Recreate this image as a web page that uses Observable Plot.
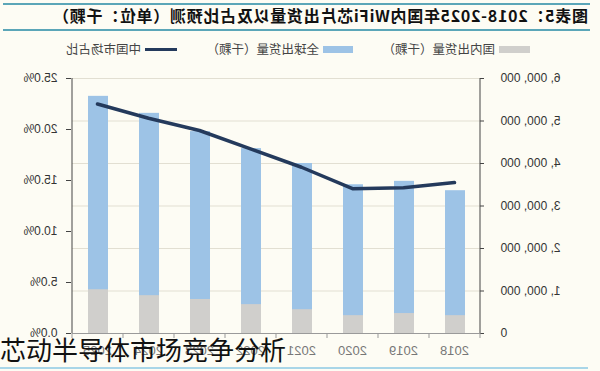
<!DOCTYPE html>
<html>
<head>
<meta charset="utf-8">
<script src="https://cdn.jsdelivr.net/npm/d3@7"></script>
<script src="https://cdn.jsdelivr.net/npm/@observablehq/plot@0.6"></script>
<style>
  html, body { margin: 0; padding: 0; background: #fdfcf4; }
  #root { position: relative; width: 600px; height: 371px; overflow: hidden; background: #fdfcf4; font-family: "Noto Sans CJK SC", sans-serif; }
  #mirror { position: absolute; left: 0; top: 0; width: 600px; height: 371px; transform: scaleX(-1); }
  .hline { position: absolute; height: 2px; }
  .leg { position: absolute; font-size: 12.5px; color: #444; line-height: 14px; white-space: nowrap; }
  .sw { position: absolute; }
  #plot { position: absolute; left: 0; top: 60px; }
  #watermark { position: absolute; left: 0; top: 336px; font-size: 26px; line-height: 26px; color: #111; white-space: nowrap; font-family: "Noto Sans CJK SC", sans-serif; }
</style>
</head>
<body>
<div id="root">
  <div id="mirror">
    <div class="hline" style="left:10px;width:587px;top:3px;background:#5ba6b8;"></div>
    <div class="hline" style="left:10px;width:587px;top:29px;background:#5ba6b8;"></div>
    <svg style="position:absolute;left:0;top:4px" width="600" height="25">
      <text id="title" x="12" y="18" textLength="535" lengthAdjust="spacing" font-size="16" font-weight="bold" fill="#111" font-family="Noto Sans CJK SC, sans-serif"></text>
    </svg>
    <div id="legend"></div>
    <div id="plot"></div>
    <div class="hline" style="left:12px;width:588px;top:367px;background:#a9d6e8;"></div>
  </div>
  <div id="watermark"></div>
</div>
<script>
// ---- data ----
const titleText = "图表5：2018-2025年国内WiFi芯片出货量以及占比预测（单位：千颗）";
const watermarkText = "芯动半导体市场竞争分析";
const years = ["2018", "2019", "2020", "2021", "2022", "2023", "2024", "2025"];
const globalShip = [3360000, 3580000, 3500000, 4000000, 4350000, 4750000, 5180000, 5580000];
const domesticShip = [420000, 470000, 420000, 560000, 680000, 800000, 890000, 1030000];
const chinaShare = [14.8, 14.3, 14.2, 16.3, 18.1, 19.9, 21.1, 22.5];
const countTicks = [0, 1000000, 2000000, 3000000, 4000000, 5000000, 6000000];
const shareTicks = [0, 5, 10, 15, 20, 25];
const legendLabels = ["国内出货量（千颗）", "全球出货量（千颗）", "中国市场占比"];

const colGlobal = "#9dc3e6";
const colDomestic = "#d0cfcc";
const colLine = "#243a5c";

document.getElementById("title").textContent = titleText;
document.getElementById("watermark").textContent = watermarkText;

// legend
const legend = document.getElementById("legend");
const legItems = [
  {sw: {left: 70, width: 31, top: 46, height: 7, bg: colDomestic}, textLeft: 105, label: legendLabels[0]},
  {sw: {left: 247, width: 30, top: 46, height: 7, bg: colGlobal}, textLeft: 281, label: legendLabels[1]},
  {sw: {left: 423, width: 32, top: 48, height: 3, bg: colLine}, textLeft: 459, label: legendLabels[2]}
];
for (const it of legItems) {
  const s = document.createElement("div");
  s.className = "sw";
  Object.assign(s.style, {left: it.sw.left + "px", width: it.sw.width + "px", top: it.sw.top + "px", height: it.sw.height + "px", background: it.sw.bg});
  legend.appendChild(s);
  const t = document.createElement("div");
  t.className = "leg";
  t.style.left = it.textLeft + "px";
  t.style.top = "42px";
  t.textContent = it.label;
  legend.appendChild(t);
}

// chart
const data = years.map((y, i) => ({year: y, global: globalShip[i], domestic: domesticShip[i], share: chinaShare[i]}));
const yMax = countTicks[countTicks.length - 1];
const pMax = shareTicks[shareTicks.length - 1];
const toY = p => p / pMax * yMax;
const fmtCount = d => d3.format(",")(d).replace(/,/g, ", ");

const chart = Plot.plot({
  width: 600,
  height: 311,
  marginTop: 18,
  marginBottom: 38,
  marginLeft: 120,
  marginRight: 72,
  style: {background: "transparent", fontFamily: "Liberation Sans, Arial, sans-serif", fontSize: "12px", color: "#333"},
  x: {type: "band", domain: years, paddingInner: 0.6, paddingOuter: 0.3, label: null},
  y: {domain: [0, yMax], label: null},
  marks: [
    Plot.gridY({ticks: countTicks.slice(1), stroke: "#e2dfd2", strokeOpacity: 1}),
    Plot.barY(data, {x: "year", y: "global", fill: colGlobal}),
    Plot.barY(data, {x: "year", y: "domestic", fill: colDomestic}),
    Plot.lineY(data, {x: "year", y: d => toY(d.share), stroke: colLine, strokeWidth: 3.5}),
    Plot.ruleY([0], {stroke: "#9a9a9a"}),
    Plot.ruleX([years[0]], {dx: -25.5, stroke: "#444"}),
    Plot.ruleX([years[years.length - 1]], {dx: 25.5, stroke: "#444"}),
    Plot.axisY({anchor: "left", ticks: countTicks, tickFormat: fmtCount, tickSize: 4, tickPadding: 17, stroke: "#444", fill: "#333", label: null}),
    Plot.axisY({anchor: "right", ticks: shareTicks.map(toY), tickFormat: d => (d / yMax * pMax).toFixed(1) + "%", tickSize: 5, tickPadding: 9, stroke: "#444", fill: "#333", label: null}),
    Plot.axisX({tickSize: 0, tickPadding: 12, fill: "#777", fontSize: 13, label: null}),
    Plot.axisX({tickSize: 5, text: null, dx: -25.5, stroke: "#999", label: null}),
    Plot.axisX({ticks: [years[years.length - 1]], tickSize: 5, text: null, dx: 25.5, stroke: "#999", label: null})
  ]
});
document.getElementById("plot").appendChild(chart);
</script>
</body>
</html>
